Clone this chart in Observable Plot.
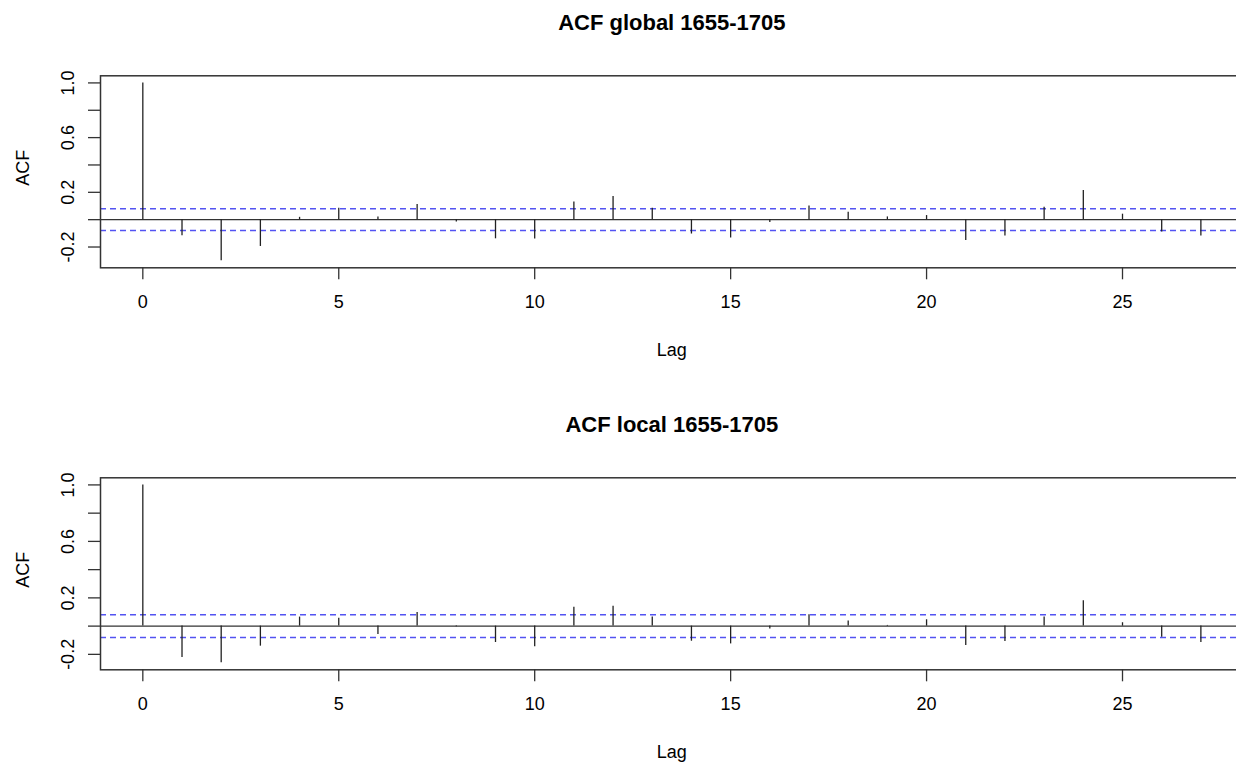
<!DOCTYPE html>
<html><head><meta charset="utf-8">
<script src="https://cdn.jsdelivr.net/npm/d3@7"></script>
<script src="https://cdn.jsdelivr.net/npm/@observablehq/plot@0.6"></script>
<style>
html,body{margin:0;padding:0;background:#fff;overflow:hidden;}
#wrap{width:1236px;height:762px;overflow:hidden;}
#wrap svg{display:block;max-width:none !important;}
</style></head><body><div id="wrap"></div>
<script>
const lags = [0,1,2,3,4,5,6,7,8,9,10,11,12,13,14,15,16,17,18,19,20,21,22,23,24,25,26,27];
const acfGlobal = [1.0,-0.117,-0.30,-0.196,0.017,0.083,0.02,0.11,-0.017,-0.14,-0.142,0.13,0.169,0.083,-0.105,-0.134,-0.02,0.10,0.054,0.02,0.03,-0.152,-0.12,0.09,0.213,0.04,-0.09,-0.12];
const acfLocal = [1.0,-0.223,-0.259,-0.142,0.064,0.055,-0.06,0.097,-0.005,-0.116,-0.147,0.133,0.14,0.064,-0.107,-0.126,-0.02,0.08,0.036,0.005,0.045,-0.137,-0.109,0.064,0.18,0.024,-0.078,-0.116];
const confBound = 0.08;
const xTicks = [0,5,10,15,20,25];
const yTicks = [-0.2,0,0.2,0.4,0.6,0.8,1.0];
const yTickLabels = [-0.2,0.2,0.6,1.0];
const titles = ["ACF global 1655-1705","ACF local 1655-1705"];
const xLabel = "Lag";
const yLabel = "ACF";

const FONT = "'Liberation Sans', Arial, Helvetica, sans-serif";

function panel(title, values, height) {
  const data = lags.map((lag, i) => ({lag, acf: values[i]}));
  const lo = Math.min(d3.min(values), -confBound), hi = Math.max(d3.max(values), confBound);
  const pad = (hi - lo) * 0.04;
  const lagPad = (d3.max(lags) - d3.min(lags)) * 0.04;
  const boxBottom = 267.3;
  return Plot.plot({
    width: 1250, height,
    marginLeft: 100, marginRight: 7.3, marginTop: 75.3, marginBottom: height - boxBottom,
    style: {fontFamily: FONT, fontSize: "18px", color: "#000", background: "#fff", maxWidth: "none"},
    x: {domain: [d3.min(lags) - lagPad, d3.max(lags) + lagPad]},
    y: {domain: [lo - pad, hi + pad]},
    marks: [
      Plot.ruleY([confBound, -confBound], {stroke: "#5353f2", strokeWidth: 1.5, strokeDasharray: "6,4"}),
      Plot.ruleY([0], {stroke: "#333", strokeWidth: 1.3}),
      Plot.ruleX(data, {x: "lag", y1: 0, y2: "acf", stroke: "#222", strokeWidth: 1.3}),
      Plot.frame({stroke: "#333", strokeWidth: 1.5}),
      Plot.axisX({ticks: xTicks, tickSize: 12, tickPadding: 15, fontSize: 18, label: null, stroke: "#333", strokeWidth: 1.3}),
      Plot.axisY({ticks: yTicks, tickSize: 12, tickFormat: () => "", label: null, stroke: "#333", strokeWidth: 1.3}),
      Plot.text(yTickLabels, {y: d => d, text: d => d.toFixed(1), frameAnchor: "left", dx: -26.5, rotate: -90, lineAnchor: "bottom", textAnchor: "middle", fontSize: 18, fill: "#000"}),
      Plot.text([yLabel], {text: d => d, frameAnchor: "left", dx: -72, dy: -4, rotate: -90, lineAnchor: "bottom", textAnchor: "middle", fontSize: 18, fill: "#000"}),
      Plot.text([xLabel], {text: d => d, frameAnchor: "bottom", dy: 75, lineAnchor: "top", fontSize: 18, fill: "#000"}),
      Plot.text([title], {text: d => d, frameAnchor: "top", dy: -46, lineAnchor: "bottom", fontSize: 22, fontWeight: "bold", fill: "#000"})
    ]
  });
}

const wrap = document.getElementById("wrap");
wrap.appendChild(panel(titles[0], acfGlobal, 402));
wrap.appendChild(panel(titles[1], acfLocal, 360));
</script>
</body></html>
